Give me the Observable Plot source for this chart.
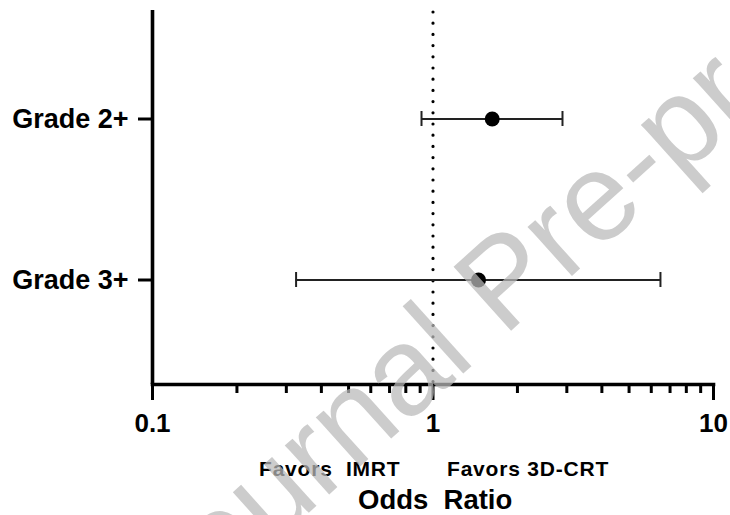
<!DOCTYPE html>
<html>
<head>
<meta charset="utf-8">
<script src="https://cdn.jsdelivr.net/npm/d3@7"></script>
<script src="https://cdn.jsdelivr.net/npm/@observablehq/plot@0.6"></script>
<style>
  html, body { margin: 0; padding: 0; background: white; }
  #chart { width: 730px; height: 515px; overflow: hidden; }
</style>
</head>
<body>
<div id="chart"></div>
<script>
// Data
const labels = ["Grade 2+", "Grade 3+"];
const oddsRatio = [1.626, 1.453];
const ciLow = [0.91, 0.325];
const ciHigh = [2.895, 6.47];

const majorTicks = [0.1, 1, 10];
const minorTicks = [0.2, 0.3, 0.4, 0.5, 0.6, 0.7, 0.8, 0.9, 2, 3, 4, 5, 6, 7, 8, 9];

const rows = labels.map((label, i) => ({label, or: oddsRatio[i], lo: ciLow[i], hi: ciHigh[i]}));

const font = "'Liberation Sans', Arial, Helvetica, sans-serif";
const capInset = (161 - 15) / 2;

const chart = Plot.plot({
  width: 730,
  height: 515,
  marginLeft: 152,
  marginRight: 17,
  marginTop: 10,
  marginBottom: 131,
  style: {fontFamily: font, background: "white", color: "black", overflow: "visible"},
  x: {type: "log", domain: [0.1, 10], label: null},
  y: {type: "band", domain: labels, range: [37.5, 359.5], padding: 0, label: null},
  marks: [
    Plot.ruleX([1], {stroke: "black", strokeWidth: 3.2, strokeDasharray: "0 11.2", strokeLinecap: "round", strokeDashoffset: -2}),
    Plot.ruleY(rows, {y: "label", x1: "lo", x2: "hi", stroke: "#222", strokeWidth: 2}),
    Plot.tickX(rows, {x: "lo", y: "label", insetTop: capInset, insetBottom: capInset, stroke: "#222", strokeWidth: 2}),
    Plot.tickX(rows, {x: "hi", y: "label", insetTop: capInset, insetBottom: capInset, stroke: "#222", strokeWidth: 2}),
    Plot.dot(rows, {x: "or", y: "label", r: 7.5, fill: "black", stroke: "none"}),
    Plot.ruleX([0.1], {stroke: "black", strokeWidth: 3.6}),
    Plot.frame({anchor: "bottom", stroke: "black", strokeWidth: 3.6}),
    Plot.axisX({ticks: minorTicks, tickSize: 9, tickFormat: () => "", strokeWidth: 3, label: null}),
    Plot.axisX({ticks: majorTicks, tickSize: 16, tickPadding: 13, tickFormat: d => String(d),
      fontSize: 26, fontWeight: "bold", strokeWidth: 3, label: null}),
    Plot.axisY({tickSize: 14, tickPadding: 10, fontSize: 27, fontWeight: "bold", strokeWidth: 3, label: null})
  ]
});

document.getElementById("chart").appendChild(chart);

const svg = d3.select(chart);
const ann = svg.append("g").attr("font-family", font).attr("font-weight", "bold")
  .attr("fill", "black").attr("text-anchor", "start").style("white-space", "pre");
ann.append("text").attr("x", 259).attr("y", 476).attr("font-size", 21).attr("letter-spacing", 0.8).text("Favors  IMRT");
ann.append("text").attr("x", 447).attr("y", 476).attr("font-size", 21).attr("letter-spacing", 0.8).text("Favors 3D-CRT");
ann.append("text").attr("x", 358).attr("y", 509).attr("font-size", 27.5).text("Odds  Ratio");

// watermark on top
svg.append("text")
  .attr("transform", "translate(173,635) rotate(-42)")
  .attr("text-anchor", "start")
  .attr("font-family", font)
  .attr("font-size", 125)
  .attr("fill", "rgb(185,185,185)")
  .attr("fill-opacity", 0.73)
  .text("Journal Pre-proof");
</script>
</body>
</html>
